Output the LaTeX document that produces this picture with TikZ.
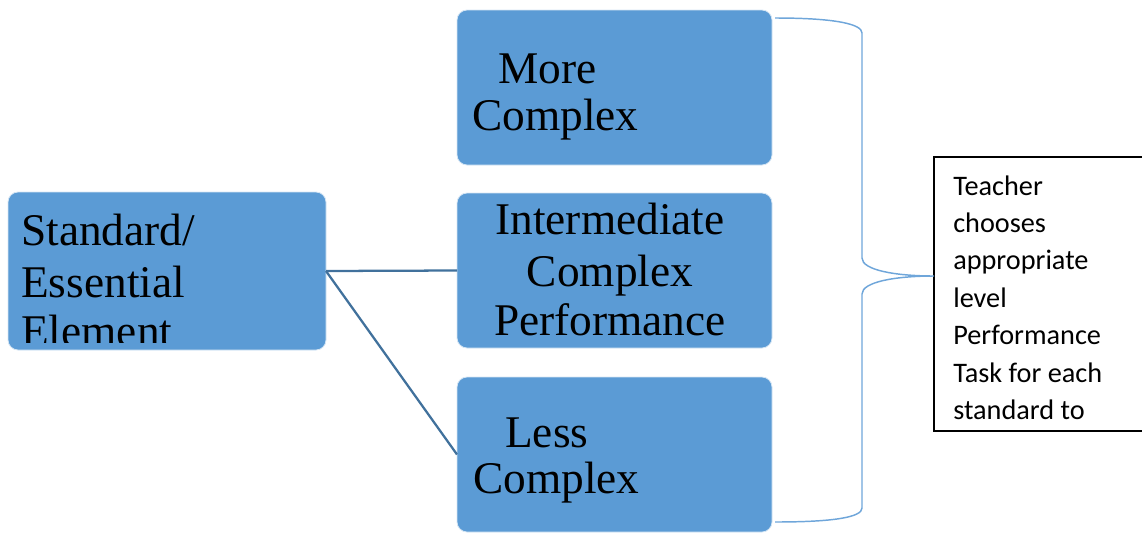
\documentclass[tikz,border=0pt]{standalone}
\usepackage{fontspec}
\setmainfont{Liberation Serif}
\newfontfamily\calfont{Carlito}
\definecolor{boxblue}{HTML}{5B9BD5}
\definecolor{lineblue}{HTML}{41719C}
\definecolor{bracecol}{HTML}{6FA6DA}
\begin{document}
\begin{tikzpicture}[x=0.75pt,y=-0.75pt,
  blk/.style={draw=white!75!boxblue, line width=0.6pt, fill=boxblue, rounded corners=7.5pt,
    inner sep=0pt, outer sep=0pt, minimum width=236.25pt, minimum height=116.25pt},
  bigtxt/.style={anchor=base west, inner sep=0pt, font=\fontsize{34}{40}\selectfont, text=black},
  smalltxt/.style={anchor=base west, inner sep=0pt, font=\calfont\fontsize{21.2}{28}\selectfont, text=black},
  conn/.style={draw=lineblue, line width=1.7pt},
  bracestyle/.style={draw=bracecol, line width=1.1pt}]
\useasboundingbox (0,0) rectangle (1142,533);
\clip (0,0) rectangle (1142,533);

% boxes
\node[blk, minimum width=238.5pt, minimum height=118.5pt] (std) at (167,271) {};
\node[blk] (more) at (614.5,87.5) {};
\node[blk] (inter) at (614.5,270.5) {};
\node[blk] (less) at (614.5,454.5) {};

% connectors
\draw[conn] (std.east) -- (inter.west);
\draw[conn] (std.east) -- (less.west);

% text of the standard box (last line cut by the box)
\begin{scope}
\clip (0,0) rectangle (1142,342.5);
\node[bigtxt] (s1) at (21,245) {Standard/};
\node[bigtxt] (s2) at (21,297) {Essential};
\node[bigtxt] (s3) at (21,346) {Element};
\end{scope}

\node[bigtxt] (m1) at (498,83) {More};
\node[bigtxt] (m2) at (472,130) {Complex};

\node[bigtxt, anchor=base] (i1) at (610,234) {Intermediate};
\node[bigtxt, anchor=base] (i2) at (610,286) {Complex};
\node[bigtxt, anchor=base] (i3) at (610,335) {Performance};

\node[bigtxt] (l1) at (505,447) {Less};
\node[bigtxt] (l2) at (473,493) {Complex};

% text box
\node[draw=black, line width=0.8pt, fill=white, inner sep=0pt, minimum width=162pt, minimum height=205.5pt] (tbox) at (1042,294) {};
\node[smalltxt] (t1) at (953,195) {Teacher};
\node[smalltxt] (t2) at (953,232) {chooses};
\node[smalltxt] (t3) at (953,269) {appropriate};
\node[smalltxt] (t4) at (953,307) {level};
\node[smalltxt] (t5) at (953,344) {Performance};
\node[smalltxt] (t6) at (953,382) {Task for each};
\node[smalltxt] (t7) at (953,419) {standard to};

% brace
\coordinate (btop) at (775,18);
\coordinate (bbot) at (775,522);
\coordinate (tip) at (934,276);
\draw[bracestyle] (btop) .. controls (835,18) and (862,24) .. (862,33)
  -- (862,258) .. controls (862,270) and (895,276) .. (tip)
  .. controls (895,276) and (862,282) .. (862,294)
  -- (862,508) .. controls (862,517) and (835,522) .. (bbot);
\end{tikzpicture}
\end{document}
